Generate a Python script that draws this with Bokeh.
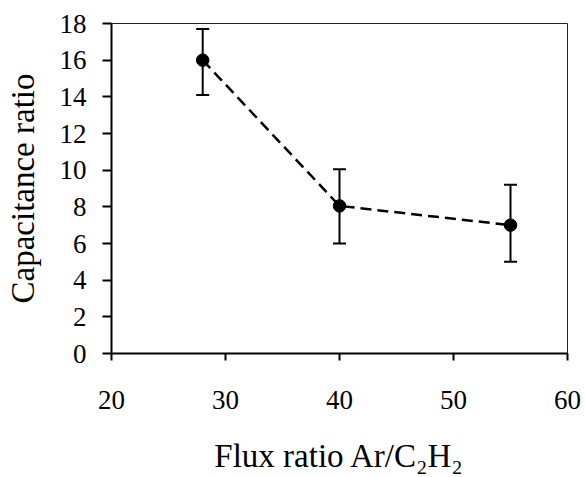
from bokeh.plotting import figure
from bokeh.models import ColumnDataSource, Whisker, TeeHead, Range1d, FixedTicker
from bokeh.embed import file_html
from bokeh.resources import INLINE

flux_ratio = [28, 40, 55]
cap_ratio = [16.0, 8.05, 7.0]
err_upper = [17.7, 10.05, 9.2]
err_lower = [14.1, 6.0, 5.0]
x_ticks = [20, 30, 40, 50, 60]
y_ticks = [0, 2, 4, 6, 8, 10, 12, 14, 16, 18]

src = ColumnDataSource(dict(x=flux_ratio, y=cap_ratio, upper=err_upper, lower=err_lower))

FONT = "Liberation Serif"

p = figure(width=585, height=477, output_backend="svg", toolbar_location=None,
           x_range=Range1d(20, 60), y_range=Range1d(0, 18),
           min_border_left=111, min_border_right=18, min_border_top=23, min_border_bottom=124)

p.xgrid.visible = False
p.ygrid.visible = False
p.outline_line_color = "#222222"
p.outline_line_width = 1

for ax in (p.xaxis[0], p.yaxis[0]):
    ax.axis_line_width = 2
    ax.axis_line_color = "black"
    ax.major_tick_line_width = 2
    ax.major_tick_line_color = "black"
    ax.major_tick_in = 0
    ax.minor_tick_line_color = None
    ax.major_label_text_font = FONT
    ax.major_label_text_font_size = "27px"
    ax.major_label_text_color = "black"
    ax.axis_label_text_font = FONT
    ax.axis_label_text_font_size = "33px"
    ax.axis_label_text_font_style = "normal"
    ax.axis_label_text_color = "black"

p.xaxis[0].ticker = FixedTicker(ticks=x_ticks)
p.yaxis[0].ticker = FixedTicker(ticks=y_ticks)
p.xaxis[0].major_tick_out = 7
p.yaxis[0].major_tick_out = 9
p.xaxis[0].major_label_standoff = 30
p.yaxis[0].major_label_standoff = 16
p.xaxis[0].axis_label = "Flux ratio Ar/C\u2082H\u2082"
p.yaxis[0].axis_label = "Capacitance ratio"
p.xaxis[0].axis_label_standoff = 26
p.yaxis[0].axis_label_standoff = 16

p.line("x", "y", source=src, line_color="black", line_width=2.5, line_dash="11 6")

w = Whisker(source=src, base="x", upper="upper", lower="lower", dimension="height",
            line_color="black", line_width=2,
            upper_head=TeeHead(size=13, line_width=2, line_color="black"),
            lower_head=TeeHead(size=13, line_width=2, line_color="black"))
p.add_layout(w)

p.scatter("x", "y", source=src, size=12.5, marker="circle", fill_color="black", line_color="black")

open("out.html", "w").write(file_html(p, INLINE))
